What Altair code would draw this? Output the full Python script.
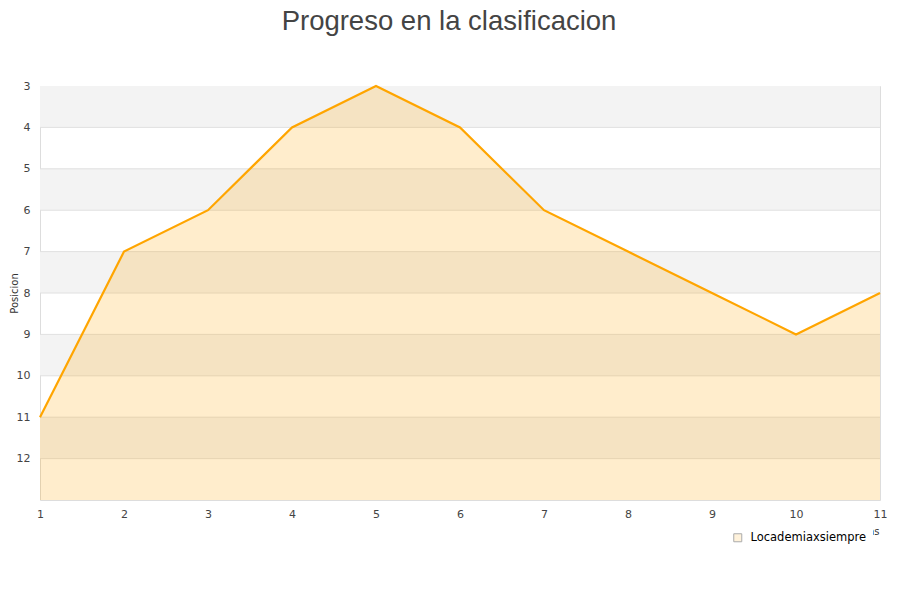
import altair as alt
import pandas as pd

# Datos del progreso
jornadas = [1, 2, 3, 4, 5, 6, 7, 8, 9, 10, 11]
posiciones = [11, 7, 6, 4, 3, 4, 6, 7, 8, 9, 8]
serie = "Locademiaxsiempre"

y_ticks = [3, 4, 5, 6, 7, 8, 9, 10, 11, 12]
grid_lines = [4, 5, 6, 7, 8, 9, 10, 11, 12]
band_start = [3, 5, 7, 9, 11]
band_end = [4, 6, 8, 10, 12]

df = pd.DataFrame({"Jornada": jornadas, "Posicion": posiciones, "Serie": serie})
bands = pd.DataFrame({"y0": band_start, "y1": band_end})
grid = pd.DataFrame({"g": grid_lines})

y_scale = alt.Scale(domain=[3, 13], reverse=True, nice=False, zero=False)
x_scale = alt.Scale(domain=[1, 11], nice=False, zero=False)

band_layer = alt.Chart(bands).mark_rect(color="#F3F3F3").encode(
    y=alt.Y("y0:Q", scale=y_scale),
    y2="y1:Q",
)

grid_layer = alt.Chart(grid).mark_rule(color="#E0E0E0", strokeWidth=1).encode(
    y=alt.Y("g:Q", scale=y_scale)
)

area = alt.Chart(df).mark_area(color="#FFA500", opacity=0.2).encode(
    x=alt.X("Jornada:Q", scale=x_scale),
    y=alt.Y("Posicion:Q", scale=y_scale),
    y2=alt.Y2Datum(13),
)

line = alt.Chart(df).mark_line(color="#FFA500", strokeWidth=2.2).encode(
    x=alt.X(
        "Jornada:Q",
        scale=x_scale,
        title="Jornadas",
        axis=alt.Axis(
            values=jornadas, format="d", grid=False, ticks=False, domain=False,
            labelFlush=False,
            labelPadding=8, labelFontSize=11, labelColor="#444", labelFont="DejaVu Sans",
            titleFontSize=10, titleFontWeight="normal", titleColor="#333",
            titleFont="DejaVu Sans", titleAnchor="end", titleAlign="right",
            titleX=839, titleY=34, titleBaseline="alphabetic",
        ),
    ),
    y=alt.Y(
        "Posicion:Q",
        scale=y_scale,
        title="Posicion",
        axis=alt.Axis(
            values=y_ticks, format="d", grid=False, ticks=False, domain=False,
            labelPadding=10, labelFontSize=11, labelColor="#444", labelFont="DejaVu Sans",
            titleFontSize=10, titleFontWeight="normal", titleColor="#333",
            titleFont="DejaVu Sans", titleX=-26, titleY=207, titleAngle=-90,
            titleAlign="center", titleBaseline="middle",
        ),
    ),
)

legend_layer = alt.Chart(df).mark_point(shape="square", filled=True).encode(
    fill=alt.Fill(
        "Serie:N",
        scale=alt.Scale(domain=[serie], range=["#FFEDCC"]),
        legend=alt.Legend(
            title=None, orient="none", legendX=686, legendY=440,
            fillColor="white", padding=6, symbolType="square", symbolSize=64,
            symbolStrokeColor="#888", symbolStrokeWidth=1, labelOffset=7,
            labelFontSize=11.5, labelFont="DejaVu Sans", labelColor="#000",
        ),
    )
).transform_filter("false")

chart = alt.layer(band_layer, grid_layer, area, line, legend_layer).properties(
    width=840,
    height=414,
    autosize=alt.AutoSizeParams(type="none"),
    padding={"left": 32, "top": 78, "right": 12, "bottom": 92},
    title=alt.TitleParams(
        "Progreso en la clasificacion", fontSize=27.5, font="Liberation Sans",
        fontWeight="normal", color="#444", anchor="middle", offset=45, dx=-11,
    ),
).configure_view(stroke="#DDD")

chart.save("out.html", embed_options={"renderer": "svg", "actions": False})
